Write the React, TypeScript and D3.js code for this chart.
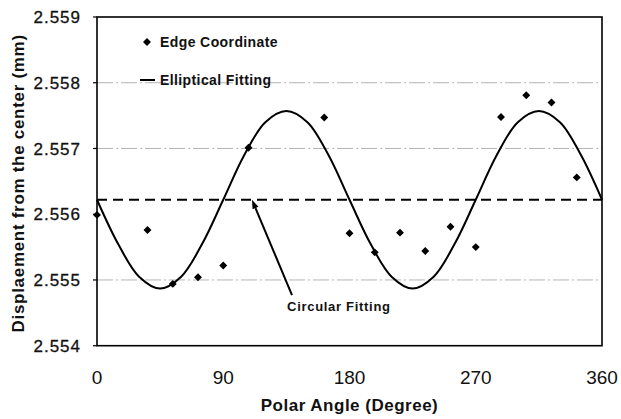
import React from "react";
import * as d3 from "d3";

// Edge coordinate measurements (polar angle in degrees, displacement in mm)
const pointAngles = [0, 36, 54, 72, 90, 108, 162, 180, 198, 216, 234, 252, 270, 288, 306, 324, 342];
const pointValues = [2.55599, 2.55576, 2.55494, 2.55504, 2.55522, 2.55701, 2.55747, 2.55571, 2.55542, 2.55572, 2.55544, 2.55581, 2.5555, 2.55748, 2.55781, 2.5577, 2.55656];

// Elliptical fitting curve, read at 15° steps
const curveAngles = [0, 15, 30, 45, 60, 75, 90, 105, 120, 135, 150, 165, 180, 195, 210, 225, 240, 255, 270, 285, 300, 315, 330, 345, 360];
const curveValues = [2.55622, 2.55555, 2.55505, 2.55487, 2.55505, 2.55555, 2.55622, 2.5569, 2.5574, 2.55757, 2.5574, 2.5569, 2.55622, 2.55555, 2.55505, 2.55487, 2.55505, 2.55555, 2.55622, 2.5569, 2.5574, 2.55757, 2.5574, 2.5569, 2.55622];

// Circular fitting (constant radius)
const circularValue = 2.55622;

const xTicks = [0, 90, 180, 270, 360];
const yTicks = [2.554, 2.555, 2.556, 2.557, 2.558, 2.559];
const gridValues = [2.555, 2.557, 2.558];

export default function App() {
  const W = 621, H = 419;
  const x = d3.scaleLinear().domain([0, 360]).range([97, 602]);
  const y = d3.scaleLinear().domain([2.554, 2.559]).range([345.7, 17]);

  const line = d3
    .line<number>()
    .x((_, i) => x(curveAngles[i]))
    .y((v) => y(v))
    .curve(d3.curveCatmullRom.alpha(0.5));

  const diamond = d3.symbol().type(d3.symbolDiamond2).size(40)();

  // annotation arrow, in data coordinates
  const tip = [x(110.5), y(circularValue)];
  const tail = [x(139), y(2.55477)];
  const ang = Math.atan2(tip[1] - tail[1], tip[0] - tail[0]);
  const ah = 9, aw = 3.2;
  const bx = tip[0] - ah * Math.cos(ang), by = tip[1] - ah * Math.sin(ang);
  const px = -Math.sin(ang), py = Math.cos(ang);
  const head = `M${tip[0]},${tip[1]} L${bx + aw * px},${by + aw * py} L${bx - aw * px},${by - aw * py} Z`;

  const font = "'Liberation Sans', Arial, sans-serif";

  return (
    <div style={{ position: "absolute", left: 0, top: 0 }}>
      <svg width={W} height={H} style={{ display: "block", background: "#fff" }} fontFamily={font}>
        {/* gridlines */}
        {gridValues.map((v) => (
          <line key={v} x1={x(0)} x2={x(360)} y1={y(v)} y2={y(v)} stroke="#b4b4b4" strokeWidth={1} strokeDasharray="16,3,2,3" />
        ))}
        {/* circular fitting */}
        <line x1={x(0)} x2={x(360)} y1={y(circularValue)} y2={y(circularValue)} stroke="#000" strokeWidth={2} strokeDasharray="10,6" />
        {/* elliptical fitting */}
        <path d={line(curveValues) || ""} fill="none" stroke="#000" strokeWidth={2} />
        {/* points */}
        {pointAngles.map((a, i) => (
          <path key={i} d={diamond || ""} transform={`translate(${x(a)},${y(pointValues[i])})`} fill="#000" />
        ))}
        {/* frame */}
        <rect x={x(0)} y={y(2.559)} width={x(360) - x(0)} height={y(2.554) - y(2.559)} fill="none" stroke="#000" strokeWidth={1.6} />
        {/* y ticks */}
        {yTicks.map((v) => (
          <g key={v}>
            <line x1={x(0) - 4} x2={x(0)} y1={y(v)} y2={y(v)} stroke="#000" strokeWidth={1.2} />
            <text x={81} y={y(v)} dy="0.36em" textAnchor="end" fontSize={17} letterSpacing={1} fill="#111" stroke="#111" strokeWidth={0.3}>
              {v.toFixed(3)}
            </text>
          </g>
        ))}
        {/* x ticks */}
        {xTicks.map((v) => (
          <text key={v} x={x(v)} y={384} textAnchor="middle" fontSize={19} fill="#111">
            {v}
          </text>
        ))}
        {/* axis titles */}
        <text x={x(180)} y={411} textAnchor="middle" fontSize={17} fontWeight="bold" letterSpacing={0.5} fill="#111">
          Polar Angle (Degree)
        </text>
        <text transform={`translate(24,${(y(2.554) + y(2.559)) / 2 + 2}) rotate(-90)`} textAnchor="middle" fontSize={17} fontWeight="bold" letterSpacing={0.7} fill="#111">
          Displaement from the center (mm)
        </text>
        {/* legend */}
        <path d={diamond || ""} transform="translate(147,42)" fill="#000" />
        <text x={160} y={47} fontSize={14} fontWeight="bold" letterSpacing={0.4} fill="#111">
          Edge Coordinate
        </text>
        <line x1={140} x2={155} y1={80} y2={80} stroke="#000" strokeWidth={2} />
        <text x={160} y={85} fontSize={14} fontWeight="bold" letterSpacing={0.4} fill="#111">
          Elliptical Fitting
        </text>
        {/* annotation */}
        <line x1={tail[0]} y1={tail[1]} x2={bx} y2={by} stroke="#000" strokeWidth={2} />
        <path d={head} fill="#000" />
        <text x={x(135.5)} y={y(2.55453)} fontSize={13} fontWeight="bold" letterSpacing={0.7} fill="#111">
          Circular Fitting
        </text>
      </svg>
    </div>
  );
}
